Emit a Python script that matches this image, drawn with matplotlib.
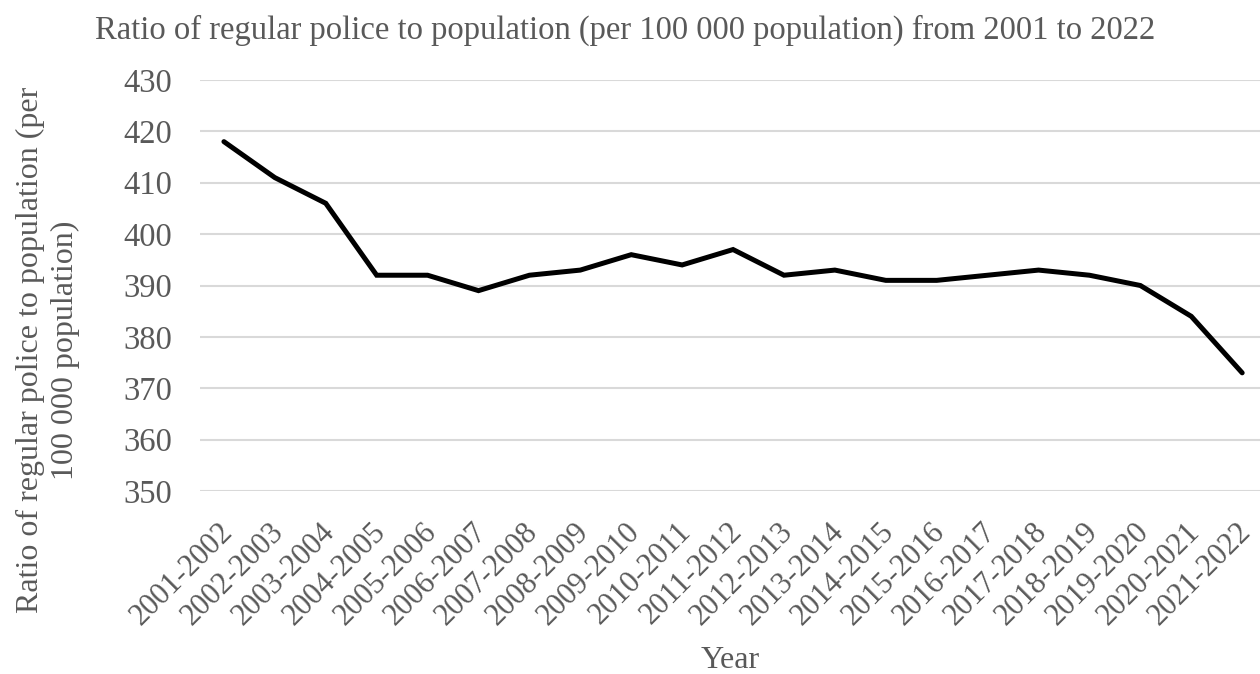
import matplotlib
matplotlib.use("Agg")
import matplotlib.pyplot as plt
from matplotlib.transforms import ScaledTranslation

years = ["2001-2002", "2002-2003", "2003-2004", "2004-2005", "2005-2006", "2006-2007",
         "2007-2008", "2008-2009", "2009-2010", "2010-2011", "2011-2012", "2012-2013",
         "2013-2014", "2014-2015", "2015-2016", "2016-2017", "2017-2018", "2018-2019",
         "2019-2020", "2020-2021", "2021-2022"]
ratio = [418, 411, 406, 392, 392, 389, 392, 393, 396, 394, 397, 392,
         393, 391, 391, 392, 393, 392, 390, 384, 373]
yticks = [350, 360, 370, 380, 390, 400, 410, 420, 430]

plt.rcParams['font.family'] = ['Liberation Serif', 'DejaVu Serif']
txt = '#595959'

fig = plt.figure(figsize=(12.6, 6.74), dpi=100)
W, H = 1260, 674
ax = fig.add_axes([200 / W, 1 - 491 / H, 1 - 200 / W, (491 - 80) / H])

x = list(range(len(years)))
ax.plot(x, ratio, color='black', lw=3.6, solid_joinstyle='miter', solid_capstyle='round', zorder=3)

ax.set_ylim(350, 430)
ax.set_yticks(yticks)
ax.set_xlim(-0.47, 20.35)
ax.set_xticks(x)
ax.set_xticklabels(years, rotation=45, ha='right', rotation_mode='anchor')
ax.grid(axis='y', color='#d9d9d9', lw=1.5)
ax.set_axisbelow(True)
for s in ax.spines.values():
    s.set_visible(False)
ax.tick_params(axis='both', length=0, colors=txt)
ax.tick_params(axis='y', labelsize=23.5, pad=20)
ax.tick_params(axis='x', labelsize=22, pad=19)
off = ScaledTranslation(-6 / 100, 0, fig.dpi_scale_trans)
for lab in ax.get_xticklabels():
    lab.set_transform(lab.get_transform() + off)

ax.set_xlabel('Year', fontsize=23, color=txt, va='center')
ax.xaxis.set_label_coords(0.5, -(660 - 491) / 411)
ax.set_ylabel('Ratio of regular police to population (per\n100 000 population)',
              fontsize=23, color=txt, linespacing=1.3, va='center', multialignment='center')
ax.yaxis.set_label_coords(-(200 - 48) / 1060, (491 - 350) / 411)
fig.text(625 / W, 1 - 30 / H, 'Ratio of regular police to population (per 100 000 population) from 2001 to 2022',
         ha='center', va='center', fontsize=23.5, color=txt)

fig.savefig('out.png', dpi=100, facecolor='white')
